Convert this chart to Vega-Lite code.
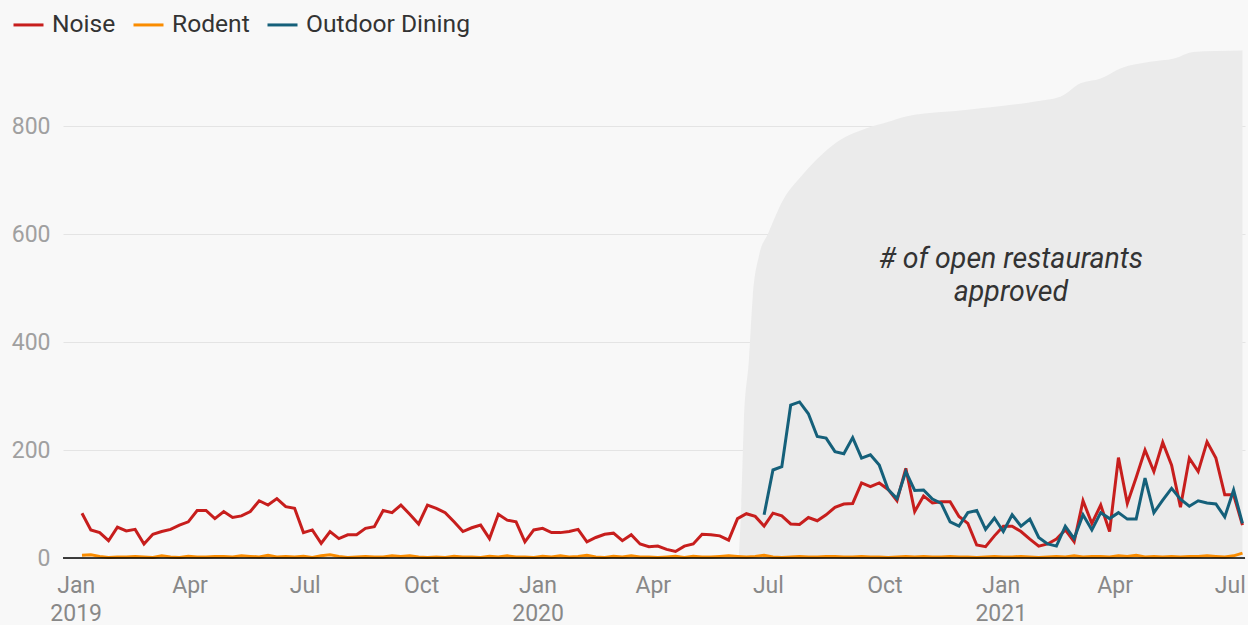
{
  "$schema": "https://vega.github.io/schema/vega-lite/v6.json",
  "autosize": {"type": "none"},
  "width": 1182,
  "height": 513,
  "padding": {"left": 63, "top": 45, "right": 3, "bottom": 67},
  "background": "#f8f8f8",
  "config": {
    "view": {"stroke": null},
    "font": "Roboto",
    "axis": {"labelFont": "Roboto", "titleFont": "Roboto"},
    "legend": {"labelFont": "Roboto"}
  },
  "datasets": {
    "approved": [
      {"date": "2020-06-08", "approved": 0},
      {"date": "2020-06-10", "approved": 100},
      {"date": "2020-06-12", "approved": 250},
      {"date": "2020-06-16", "approved": 367},
      {"date": "2020-06-19", "approved": 483},
      {"date": "2020-06-24", "approved": 560},
      {"date": "2020-07-01", "approved": 600},
      {"date": "2020-07-13", "approved": 663},
      {"date": "2020-07-27", "approved": 706},
      {"date": "2020-08-14", "approved": 750},
      {"date": "2020-08-27", "approved": 774},
      {"date": "2020-09-17", "approved": 796},
      {"date": "2020-10-03", "approved": 807},
      {"date": "2020-10-19", "approved": 818},
      {"date": "2020-12-06", "approved": 830},
      {"date": "2021-01-27", "approved": 845},
      {"date": "2021-02-17", "approved": 854},
      {"date": "2021-03-05", "approved": 879},
      {"date": "2021-03-21", "approved": 888},
      {"date": "2021-04-06", "approved": 907},
      {"date": "2021-04-29", "approved": 919},
      {"date": "2021-05-18", "approved": 925},
      {"date": "2021-06-02", "approved": 937},
      {"date": "2021-06-20", "approved": 939},
      {"date": "2021-07-11", "approved": 940}
    ],
    "series": [
      {"date": "2019-01-06", "Noise": 83, "Rodent": 5},
      {"date": "2019-01-13", "Noise": 52, "Rodent": 6},
      {"date": "2019-01-20", "Noise": 47, "Rodent": 3},
      {"date": "2019-01-27", "Noise": 32, "Rodent": 1},
      {"date": "2019-02-03", "Noise": 57, "Rodent": 2},
      {"date": "2019-02-10", "Noise": 50, "Rodent": 2},
      {"date": "2019-02-17", "Noise": 53, "Rodent": 3},
      {"date": "2019-02-24", "Noise": 26, "Rodent": 2},
      {"date": "2019-03-03", "Noise": 44, "Rodent": 1},
      {"date": "2019-03-10", "Noise": 49, "Rodent": 4},
      {"date": "2019-03-17", "Noise": 53, "Rodent": 2},
      {"date": "2019-03-24", "Noise": 61, "Rodent": 1},
      {"date": "2019-03-31", "Noise": 67, "Rodent": 3},
      {"date": "2019-04-07", "Noise": 88, "Rodent": 2},
      {"date": "2019-04-14", "Noise": 88, "Rodent": 2},
      {"date": "2019-04-21", "Noise": 73, "Rodent": 3},
      {"date": "2019-04-28", "Noise": 86, "Rodent": 3},
      {"date": "2019-05-05", "Noise": 75, "Rodent": 2},
      {"date": "2019-05-12", "Noise": 78, "Rodent": 4},
      {"date": "2019-05-19", "Noise": 86, "Rodent": 3},
      {"date": "2019-05-26", "Noise": 106, "Rodent": 2},
      {"date": "2019-06-02", "Noise": 98, "Rodent": 5},
      {"date": "2019-06-09", "Noise": 110, "Rodent": 2},
      {"date": "2019-06-16", "Noise": 95, "Rodent": 3},
      {"date": "2019-06-23", "Noise": 92, "Rodent": 2},
      {"date": "2019-06-30", "Noise": 47, "Rodent": 3},
      {"date": "2019-07-07", "Noise": 52, "Rodent": 1},
      {"date": "2019-07-14", "Noise": 27, "Rodent": 4},
      {"date": "2019-07-21", "Noise": 49, "Rodent": 6},
      {"date": "2019-07-28", "Noise": 36, "Rodent": 3},
      {"date": "2019-08-04", "Noise": 43, "Rodent": 1},
      {"date": "2019-08-11", "Noise": 43, "Rodent": 2},
      {"date": "2019-08-18", "Noise": 55, "Rodent": 3},
      {"date": "2019-08-25", "Noise": 58, "Rodent": 2},
      {"date": "2019-09-01", "Noise": 88, "Rodent": 2},
      {"date": "2019-09-08", "Noise": 84, "Rodent": 4},
      {"date": "2019-09-15", "Noise": 98, "Rodent": 3},
      {"date": "2019-09-22", "Noise": 81, "Rodent": 4},
      {"date": "2019-09-29", "Noise": 63, "Rodent": 2},
      {"date": "2019-10-06", "Noise": 98, "Rodent": 1},
      {"date": "2019-10-13", "Noise": 92, "Rodent": 2},
      {"date": "2019-10-20", "Noise": 84, "Rodent": 1},
      {"date": "2019-10-27", "Noise": 67, "Rodent": 3},
      {"date": "2019-11-03", "Noise": 49, "Rodent": 2},
      {"date": "2019-11-10", "Noise": 56, "Rodent": 2},
      {"date": "2019-11-17", "Noise": 61, "Rodent": 1},
      {"date": "2019-11-24", "Noise": 36, "Rodent": 3},
      {"date": "2019-12-01", "Noise": 81, "Rodent": 2},
      {"date": "2019-12-08", "Noise": 70, "Rodent": 4},
      {"date": "2019-12-15", "Noise": 67, "Rodent": 2},
      {"date": "2019-12-22", "Noise": 30, "Rodent": 2},
      {"date": "2019-12-29", "Noise": 52, "Rodent": 1},
      {"date": "2020-01-05", "Noise": 55, "Rodent": 3},
      {"date": "2020-01-12", "Noise": 47, "Rodent": 2},
      {"date": "2020-01-19", "Noise": 47, "Rodent": 4},
      {"date": "2020-01-26", "Noise": 49, "Rodent": 2},
      {"date": "2020-02-02", "Noise": 53, "Rodent": 3},
      {"date": "2020-02-09", "Noise": 30, "Rodent": 5},
      {"date": "2020-02-16", "Noise": 38, "Rodent": 2},
      {"date": "2020-02-23", "Noise": 44, "Rodent": 1},
      {"date": "2020-03-01", "Noise": 46, "Rodent": 3},
      {"date": "2020-03-08", "Noise": 32, "Rodent": 2},
      {"date": "2020-03-15", "Noise": 43, "Rodent": 4},
      {"date": "2020-03-22", "Noise": 26, "Rodent": 2},
      {"date": "2020-03-29", "Noise": 21, "Rodent": 2},
      {"date": "2020-04-05", "Noise": 22, "Rodent": 1},
      {"date": "2020-04-12", "Noise": 16, "Rodent": 2},
      {"date": "2020-04-19", "Noise": 12, "Rodent": 3},
      {"date": "2020-04-26", "Noise": 22, "Rodent": 1},
      {"date": "2020-05-03", "Noise": 26, "Rodent": 3},
      {"date": "2020-05-10", "Noise": 44, "Rodent": 2},
      {"date": "2020-05-17", "Noise": 43, "Rodent": 2},
      {"date": "2020-05-24", "Noise": 41, "Rodent": 3},
      {"date": "2020-05-31", "Noise": 33, "Rodent": 4},
      {"date": "2020-06-07", "Noise": 73, "Rodent": 3},
      {"date": "2020-06-14", "Noise": 82, "Rodent": 2},
      {"date": "2020-06-21", "Noise": 77, "Rodent": 3},
      {"date": "2020-06-28", "Noise": 59, "Rodent": 5, "Outdoor Dining": 80},
      {"date": "2020-07-05", "Noise": 83, "Rodent": 2, "Outdoor Dining": 163},
      {"date": "2020-07-12", "Noise": 78, "Rodent": 1, "Outdoor Dining": 169},
      {"date": "2020-07-19", "Noise": 63, "Rodent": 2, "Outdoor Dining": 283},
      {"date": "2020-07-26", "Noise": 62, "Rodent": 3, "Outdoor Dining": 289},
      {"date": "2020-08-02", "Noise": 75, "Rodent": 2, "Outdoor Dining": 267},
      {"date": "2020-08-09", "Noise": 69, "Rodent": 2, "Outdoor Dining": 225},
      {"date": "2020-08-16", "Noise": 80, "Rodent": 3, "Outdoor Dining": 222},
      {"date": "2020-08-23", "Noise": 94, "Rodent": 3, "Outdoor Dining": 197},
      {"date": "2020-08-30", "Noise": 100, "Rodent": 2, "Outdoor Dining": 193},
      {"date": "2020-09-06", "Noise": 101, "Rodent": 2, "Outdoor Dining": 223},
      {"date": "2020-09-13", "Noise": 139, "Rodent": 3, "Outdoor Dining": 185},
      {"date": "2020-09-20", "Noise": 132, "Rodent": 2, "Outdoor Dining": 191},
      {"date": "2020-09-27", "Noise": 139, "Rodent": 2, "Outdoor Dining": 172},
      {"date": "2020-10-04", "Noise": 127, "Rodent": 1, "Outdoor Dining": 127},
      {"date": "2020-10-11", "Noise": 106, "Rodent": 2, "Outdoor Dining": 110},
      {"date": "2020-10-18", "Noise": 166, "Rodent": 3, "Outdoor Dining": 160},
      {"date": "2020-10-25", "Noise": 86, "Rodent": 2, "Outdoor Dining": 125},
      {"date": "2020-11-01", "Noise": 115, "Rodent": 3, "Outdoor Dining": 126},
      {"date": "2020-11-08", "Noise": 102, "Rodent": 2, "Outdoor Dining": 109},
      {"date": "2020-11-15", "Noise": 104, "Rodent": 2, "Outdoor Dining": 101},
      {"date": "2020-11-22", "Noise": 104, "Rodent": 3, "Outdoor Dining": 67},
      {"date": "2020-11-29", "Noise": 77, "Rodent": 2, "Outdoor Dining": 59},
      {"date": "2020-12-06", "Noise": 64, "Rodent": 2, "Outdoor Dining": 84},
      {"date": "2020-12-13", "Noise": 24, "Rodent": 1, "Outdoor Dining": 88},
      {"date": "2020-12-20", "Noise": 21, "Rodent": 2, "Outdoor Dining": 53},
      {"date": "2020-12-27", "Noise": 41, "Rodent": 3, "Outdoor Dining": 74},
      {"date": "2021-01-03", "Noise": 59, "Rodent": 2, "Outdoor Dining": 49},
      {"date": "2021-01-10", "Noise": 59, "Rodent": 2, "Outdoor Dining": 80},
      {"date": "2021-01-17", "Noise": 49, "Rodent": 3, "Outdoor Dining": 59},
      {"date": "2021-01-24", "Noise": 35, "Rodent": 2, "Outdoor Dining": 72},
      {"date": "2021-01-31", "Noise": 22, "Rodent": 1, "Outdoor Dining": 38},
      {"date": "2021-02-07", "Noise": 26, "Rodent": 2, "Outdoor Dining": 26},
      {"date": "2021-02-14", "Noise": 35, "Rodent": 3, "Outdoor Dining": 22},
      {"date": "2021-02-21", "Noise": 52, "Rodent": 2, "Outdoor Dining": 59},
      {"date": "2021-02-28", "Noise": 30, "Rodent": 4, "Outdoor Dining": 36},
      {"date": "2021-03-07", "Noise": 106, "Rodent": 2, "Outdoor Dining": 80},
      {"date": "2021-03-14", "Noise": 64, "Rodent": 3, "Outdoor Dining": 52},
      {"date": "2021-03-21", "Noise": 98, "Rodent": 3, "Outdoor Dining": 84},
      {"date": "2021-03-28", "Noise": 49, "Rodent": 2, "Outdoor Dining": 73},
      {"date": "2021-04-04", "Noise": 186, "Rodent": 4, "Outdoor Dining": 84},
      {"date": "2021-04-11", "Noise": 101, "Rodent": 3, "Outdoor Dining": 72},
      {"date": "2021-04-18", "Noise": 149, "Rodent": 5, "Outdoor Dining": 72},
      {"date": "2021-04-25", "Noise": 200, "Rodent": 2, "Outdoor Dining": 148},
      {"date": "2021-05-02", "Noise": 160, "Rodent": 3, "Outdoor Dining": 84},
      {"date": "2021-05-09", "Noise": 214, "Rodent": 2, "Outdoor Dining": 107},
      {"date": "2021-05-16", "Noise": 172, "Rodent": 3, "Outdoor Dining": 129},
      {"date": "2021-05-23", "Noise": 94, "Rodent": 2, "Outdoor Dining": 109},
      {"date": "2021-05-30", "Noise": 185, "Rodent": 3, "Outdoor Dining": 96},
      {"date": "2021-06-06", "Noise": 160, "Rodent": 3, "Outdoor Dining": 106},
      {"date": "2021-06-13", "Noise": 215, "Rodent": 4, "Outdoor Dining": 102},
      {"date": "2021-06-20", "Noise": 185, "Rodent": 3, "Outdoor Dining": 100},
      {"date": "2021-06-27", "Noise": 117, "Rodent": 2, "Outdoor Dining": 76},
      {"date": "2021-07-04", "Noise": 117, "Rodent": 4, "Outdoor Dining": 126},
      {"date": "2021-07-11", "Noise": 61, "Rodent": 9, "Outdoor Dining": 64}
    ]
  },
  "layer": [
    {
      "data": {"name": "approved"},
      "mark": {"type": "area", "color": "#ebebeb", "interpolate": "monotone"},
      "encoding": {
        "x": {
          "field": "date", "type": "temporal",
          "scale": {"domain": ["2018-12-22", "2021-07-13"], "nice": false},
          "axis": {
            "title": null, "grid": false, "domain": false, "ticks": false,
            "values": [
              {"year": 2019, "month": 1, "date": 1}, {"year": 2019, "month": 4, "date": 1},
              {"year": 2019, "month": 7, "date": 1}, {"year": 2019, "month": 10, "date": 1},
              {"year": 2020, "month": 1, "date": 1}, {"year": 2020, "month": 4, "date": 1},
              {"year": 2020, "month": 7, "date": 1}, {"year": 2020, "month": 10, "date": 1},
              {"year": 2021, "month": 1, "date": 1}, {"year": 2021, "month": 4, "date": 1},
              {"year": 2021, "month": 7, "date": 1}
            ],
            "labelExpr": "month(datum.value) == 0 ? [timeFormat(datum.value, '%b'), timeFormat(datum.value, '%Y')] : timeFormat(datum.value, '%b')",
            "labelFontSize": 23, "labelColor": "#888888", "labelPadding": 16,
            "labelLineHeight": 28, "labelAlign": "center", "labelBaseline": "top"
          }
        },
        "y": {
          "field": "approved", "type": "quantitative",
          "scale": {"domain": [0, 950], "nice": false},
          "axis": {
            "title": null, "domain": false, "ticks": false,
            "values": [0, 200, 400, 600, 800],
            "gridColor": "#e4e4e4", "gridWidth": 1,
            "labelFontSize": 23, "labelColor": "#a0a0a0", "labelPadding": 13
          }
        }
      }
    },
    {
      "data": {"name": "series"},
      "transform": [
        {"fold": ["Noise", "Rodent", "Outdoor Dining"], "as": ["series", "value"]},
        {"filter": "isValid(datum.value)"}
      ],
      "mark": {"type": "line", "strokeWidth": 3},
      "encoding": {
        "x": {"field": "date", "type": "temporal"},
        "y": {"field": "value", "type": "quantitative"},
        "color": {
          "field": "series", "type": "nominal",
          "scale": {"domain": ["Noise", "Rodent", "Outdoor Dining"], "range": ["#c71e1d", "#fa8c00", "#15607a"]},
          "legend": {
            "orient": "none", "legendX": -51, "legendY": -37, "direction": "horizontal",
            "title": null, "symbolType": "stroke", "symbolSize": 900, "symbolStrokeWidth": 3,
            "labelFontSize": 24.6, "labelColor": "#333333", "columnPadding": 11,
            "labelOffset": 7, "labelLimit": 400, "padding": 0
          }
        }
      }
    },
    {
      "data": {"values": [{"value": 0}]},
      "mark": {"type": "rule", "color": "#000000", "strokeWidth": 1.5},
      "encoding": {"y": {"field": "value", "type": "quantitative"}}
    },
    {
      "data": {"values": [{"label": "# of open restaurants approved"}]},
      "mark": {
        "type": "text", "text": ["# of open restaurants", "approved"],
        "font": "Roboto", "fontStyle": "italic", "fontSize": 28.5, "color": "#333333",
        "align": "center", "baseline": "middle", "lineHeight": 33
      },
      "encoding": {
        "x": {"datum": {"year": 2021, "month": 1, "date": 9}},
        "y": {"datum": 553}
      }
    }
  ]
}
